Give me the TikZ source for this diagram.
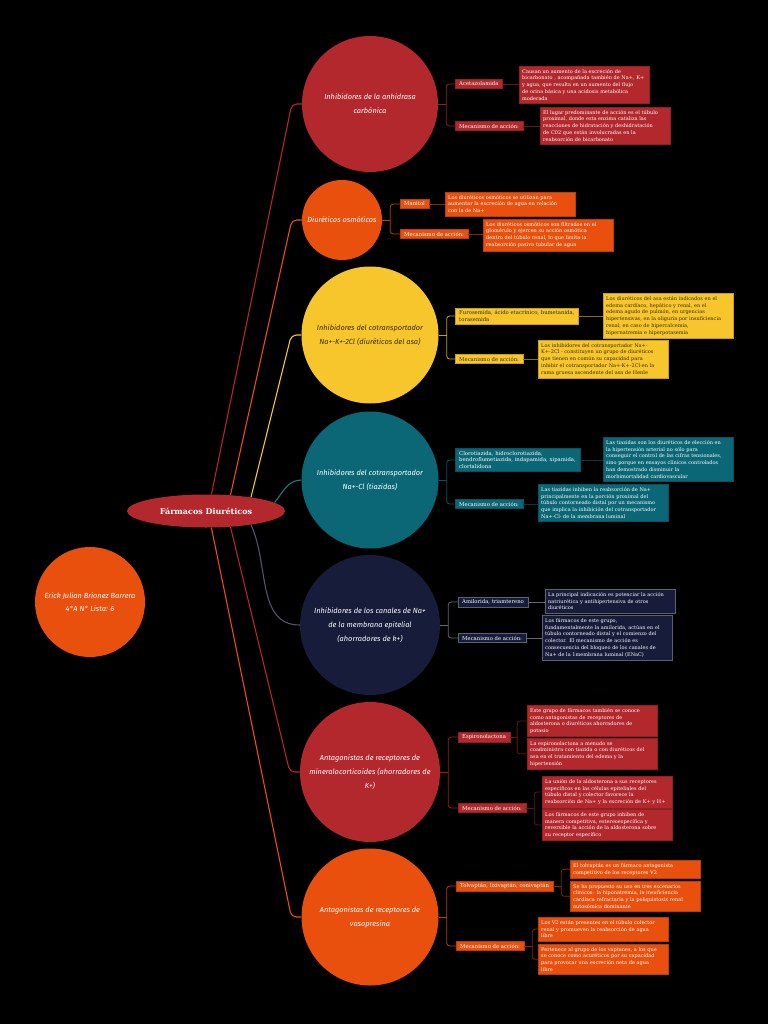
\documentclass[tikz,border=0pt]{standalone}
\usepackage{fontspec}
\setmainfont{DejaVu Serif}
\newfontfamily\handfont{Fira Sans}
\usetikzlibrary{shapes.geometric}
\definecolor{mapred}{HTML}{B3282D}
\definecolor{maporange}{HTML}{E9500E}
\definecolor{mapyellow}{HTML}{F6C62C}
\definecolor{mapteal}{HTML}{0B6676}
\definecolor{mapnavy}{HTML}{161C3A}
\definecolor{darkink}{HTML}{3A2C0A}
\begin{document}
\begin{tikzpicture}[x=1pt,y=-1pt,
  disc/.style={circle,fill=#1,inner sep=0pt,align=center,text=white,
    font=\handfont\itshape\fontsize{7.4}{14}\selectfont},
  tagbox/.style={fill=#1,draw=#1!80!black,line width=0.4pt,inner xsep=4pt,inner ysep=2.5pt,
    anchor=west,align=left,text=white,font=\fontsize{5.3}{6.8}\selectfont},
  notebox/.style={tagbox=#1,anchor=north west,inner xsep=3pt,inner ysep=3pt,text width=124pt,
    font=\fontsize{5}{6.8}\selectfont},
  fork/.style={draw=#1!80!black,line width=0.8pt,rounded corners=3pt},
  tie/.style={draw=#1!55!black,line width=0.8pt,rounded corners=3pt},
  branch/.style={draw=#1,line width=1.1pt,rounded corners=5pt}]
  \useasboundingbox (0,0) rectangle (768,1024);
  \fill[black] (0,0) rectangle (768,1024);
  % centre and author
  \node[ellipse,fill=mapred,minimum width=158pt,minimum height=33pt,text=white,
    font=\bfseries\fontsize{8}{10}\selectfont] (title) at (206,511) {Fármacos Diuréticos};
  \node[disc=maporange,minimum size=110pt,font=\handfont\itshape\fontsize{7.4}{13}\selectfont]
    (author) at (90,602) {Erick Julian Brionez Barrera\\4°A N° Lista: 6};
  % the seven groups
  \node[disc=mapred,minimum size=136pt] (carb) at (370,104) {Inhibidores de la anhidrasa\\carbónica};
  \node[disc=maporange,minimum size=80pt] (osmo) at (342,220) {Diuréticos osmóticos};
  \node[disc=mapyellow,minimum size=137pt,text=darkink] (asa) at (370,335)
    {Inhibidores del cotransportador\\Na+-K+-2Cl (diuréticos del asa)};
  \node[disc=mapteal,minimum size=137pt] (tiaz) at (370,480)
    {Inhibidores del cotransportador\\Na+-Cl (tiazidas)};
  \node[disc=mapnavy,minimum size=140pt] (enac) at (370,625)
    {Inhibidores de los canales de Na+\\de la membrana epitelial\\(ahorradores de k+)};
  \node[disc=mapred,minimum size=140pt] (mineral) at (370,772)
    {Antagonistas de receptores de\\mineralocorticoides (ahorradores de\\K+)};
  \node[disc=maporange,minimum size=137pt] (vaso) at (370,917)
    {Antagonistas de receptores de\\vasopresina};
  % branches from the centre
  \draw[branch=mapred] (title.72) -- ([xshift=-10pt]carb.west) -- (carb.west);
  \draw[branch=maporange] (title.33) -- ([xshift=-10pt]osmo.west) -- (osmo.west);
  \draw[branch=mapyellow] (title.17) -- ([xshift=-10pt]asa.west) -- (asa.west);
  \draw[branch=mapteal!90!white] (title.7) to[out=50,in=180] (tiaz.west);
  \draw[branch=mapnavy!75!white] (title.-17) to[out=-65,in=180] (enac.west);
  \draw[branch=mapred] (title.-33) -- ([xshift=-10pt]mineral.west) -- (mineral.west);
  \draw[branch=maporange] (title.-72) -- ([xshift=-10pt]vaso.west) -- (vaso.west);

  % group 1: anhidrasa carbonica
  \node[tagbox=mapred] (acet) at (455,84) {Acetazolamida};
  \node[notebox=mapred] (acetN) at (519,66) {Causan un aumento de la excreción de\\bicarbonato , acompañada también de Na+, K+\\y agua, que resulta en un aumento del flujo\\de orina básica y una acidosis metabólica\\moderada};
  \node[tagbox=mapred] (mecA) at (455,126) {Mecanismo de acción:};
  \node[notebox=mapred] (mecAN) at (540,107) {El lugar predominante de acción es el túbulo\\proximal, donde esta enzima cataliza las\\reacciones de hidratación y deshidratación\\de C02 que están involucradas en la\\reabsorción de bicarbonato};
  \draw[fork=mapred] (carb.east) -- ++(8,0);
  \draw[fork=mapred] (acet.west) -| ([xshift=8pt]carb.east) |- (mecA.west);
  \draw[tie=mapred] (acet.east) -- (acet.east -| acetN.west);
  \draw[tie=mapred] (mecA.east) -- (mecA.east -| mecAN.west);

  % group 2: osmoticos
  \node[tagbox=maporange] (mani) at (400,204) {Manitol};
  \node[notebox=maporange] (maniN) at (445,192) {Los diuréticos osmóticos se utilizan para\\aumentar la excreción de agua en relación\\con la de Na+};
  \node[tagbox=maporange] (mecB) at (400,234) {Mecanismo de acción:};
  \node[notebox=maporange] (mecBN) at (483,219) {Los diuréticos osmóticos son filtrados en el\\glomérulo y ejercen su acción osmótica\\dentro del túbulo renal, lo que limita la\\reabsorción pasiva tubular de agua};
  \draw[fork=maporange] (osmo.east) -- ++(8,0);
  \draw[fork=maporange] (mani.west) -| ([xshift=8pt]osmo.east) |- (mecB.west);
  \draw[tie=maporange] (mani.east) -- (mani.east -| maniN.west);
  \draw[tie=maporange] (mecB.east) -- (mecB.east -| mecBN.west);

  % group 3: asa (yellow, dark text)
  \node[tagbox=mapyellow,text=darkink] (furo) at (455,316) {Furosemida, ácido etacrínico, bumetanida,\\torasemida};
  \node[notebox=mapyellow,text=darkink] (furoN) at (603,293) {Los diuréticos del asa están indicados en el\\edema cardíaco, hepático y renal, en el\\edema agudo de pulmón, en urgencias\\hipertensivas, en la oliguria por insuficiencia\\renal, en caso de hipercalcemia,\\hipernatremia e hiperpotasemia};
  \node[tagbox=mapyellow,text=darkink] (mecC) at (455,359) {Mecanismo de acción:};
  \node[notebox=mapyellow,text=darkink] (mecCN) at (538,340) {Los inhibidores del cotransportador Na+-\\K+-2Cl - constituyen un grupo de diuréticos\\que tienen en común su capacidad para\\inhibir el cotransportador Na+-K+-2Cl-en la\\rama gruesa ascendente del asa de Henle};
  \draw[fork=mapyellow] (asa.east) -- ++(8,0);
  \draw[fork=mapyellow] (furo.west) -| ([xshift=8pt]asa.east) |- (mecC.west);
  \draw[tie=mapyellow] (furo.east) -- (furo.east -| furoN.west);
  \draw[tie=mapyellow] (mecC.east) -- (mecC.east -| mecCN.west);

  % group 4: tiazidas
  \node[tagbox=mapteal] (cloro) at (455,460) {Clorotiazida, hidroclorotiazida,\\bendroflumetiazida, indapamida, xipamida,\\clortalidona};
  \node[notebox=mapteal] (cloroN) at (603,437) {Las tiazidas son los diuréticos de elección en\\la hipertensión arterial no sólo para\\conseguir el control de las cifras tensionales,\\sino porque en ensayos clínicos controlados\\han demostrado disminuir la\\morbimortalidad cardiovascular};
  \node[tagbox=mapteal] (mecD) at (455,504) {Mecanismo de acción:};
  \node[notebox=mapteal] (mecDN) at (538,484) {Las tiazidas inhiben la reabsorción de Na+\\principalmente en la porción proximal del\\túbulo contorneado distal por un mecanismo\\que implica la inhibición del cotransportador\\Na+-Cl- de la membrana luminal};
  \draw[fork=mapteal] (tiaz.east) -- ++(8,0);
  \draw[fork=mapteal] (cloro.west) -| ([xshift=8pt]tiaz.east) |- (mecD.west);
  \draw[tie=mapteal] (cloro.east) -- (cloro.east -| cloroN.west);
  \draw[tie=mapteal] (mecD.east) -- (mecD.east -| mecDN.west);

  % group 5: canales ENaC (navy, lighter lines)
  \node[tagbox=mapnavy,draw=mapnavy!70!white] (amil) at (458,602) {Amilorida, triamtereno};
  \node[notebox=mapnavy,draw=mapnavy!70!white] (amilN) at (545,589) {La principal indicación es potenciar la acción\\natriurética y antihipertensiva de otros\\diuréticos};
  \node[tagbox=mapnavy,draw=mapnavy!70!white] (mecE) at (458,638) {Mecanismo de acción:};
  \node[notebox=mapnavy,draw=mapnavy!70!white] (mecEN) at (542,615) {Los fármacos de este grupo,\\fundamentalmente la amilorida, actúan en el\\túbulo contorneado distal y el comienzo del\\colector. El mecanismo de acción es\\consecuencia del bloqueo de los canales de\\Na+ de la 1membrana luminal (ENaC)};
  \draw[fork=mapnavy!55!white] (enac.east) -- ++(8,0);
  \draw[fork=mapnavy!55!white] (amil.west) -| ([xshift=8pt]enac.east) |- (mecE.west);
  \draw[tie=mapnavy!30!white] (amil.east) -- (amil.east -| amilN.west);
  \draw[tie=mapnavy!30!white] (mecE.east) -- (mecE.east -| mecEN.west);

  % group 6: mineralocorticoides
  \node[tagbox=mapred] (espi) at (458,737) {Espironolactona};
  \node[notebox=mapred] (espiN1) at (527,705) {Este grupo de fármacos también se conoce\\como antagonistas de receptores de\\aldosterona o diuréticos ahorradores de\\potasio};
  \node[notebox=mapred] (espiN2) at (527,738) {La espironolactona a menudo se\\coadministra con tiazida o con diuréticos del\\asa en el tratamiento del edema y la\\hipertensión};
  \node[tagbox=mapred] (mecF) at (458,808) {Mecanismo de acción:};
  \node[notebox=mapred] (mecFN1) at (542,776) {La unión de la aldosterona a sus receptores\\específicos en las células epiteliales del\\túbulo distal y colector favorece la\\reabsorción de Na+ y la excreción de K+ y H+};
  \node[notebox=mapred] (mecFN2) at (542,809) {Los fármacos de este grupo inhiben de\\manera competitiva, estereoespecífica y\\reversible la acción de la aldosterona sobre\\su receptor específico};
  \draw[fork=mapred] (mineral.east) -- ++(8,0);
  \draw[fork=mapred] (espi.west) -| ([xshift=8pt]mineral.east) |- (mecF.west);
  \draw[tie=mapred] (espi.east) -- ++(7,0);
  \draw[tie=mapred] (espiN1.west) -| ([xshift=7pt]espi.east) |- (espiN2.west);
  \draw[tie=mapred] (mecF.east) -- ++(8,0);
  \draw[tie=mapred] (mecFN1.west) -| ([xshift=8pt]mecF.east) |- (mecFN2.west);

  % group 7: vasopresina
  \node[tagbox=maporange] (tolv) at (456,886) {Tolvaptán, lixivaptán, conivaptán};
  \node[notebox=maporange] (tolvN1) at (570,860) {El tolvaptán es un fármaco antagonista\\competitivo de los receptores V2};
  \node[notebox=maporange] (tolvN2) at (570,881) {Se ha propuesto su uso en tres escenarios\\clínicos: la hiponatremia, la insuficiencia\\cardíaca refractaria y la poliquistosis renal\\autosómica dominante};
  \node[tagbox=maporange] (mecG) at (456,946) {Mecanismo de acción:};
  \node[notebox=maporange] (mecGN1) at (538,917) {Los V2 están presentes en el túbulo colector\\renal y promueven la reabsorción de agua\\libre};
  \node[notebox=maporange] (mecGN2) at (538,944) {Pertenece al grupo de los vaptanes, a los que\\se conoce como acuréticos por su capacidad\\para provocar una excreción neta de agua\\libre};
  \draw[fork=maporange] (vaso.east) -- ++(8,0);
  \draw[fork=maporange] (tolv.west) -| ([xshift=8pt]vaso.east) |- (mecG.west);
  \draw[tie=maporange] (tolv.east) -- ++(8,0);
  \draw[tie=maporange] (tolvN1.west) -| ([xshift=8pt]tolv.east) |- (tolvN2.west);
  \draw[tie=maporange] (mecG.east) -- ++(8,0);
  \draw[tie=maporange] (mecGN1.west) -| ([xshift=8pt]mecG.east) |- (mecGN2.west);
\end{tikzpicture}
\end{document}
